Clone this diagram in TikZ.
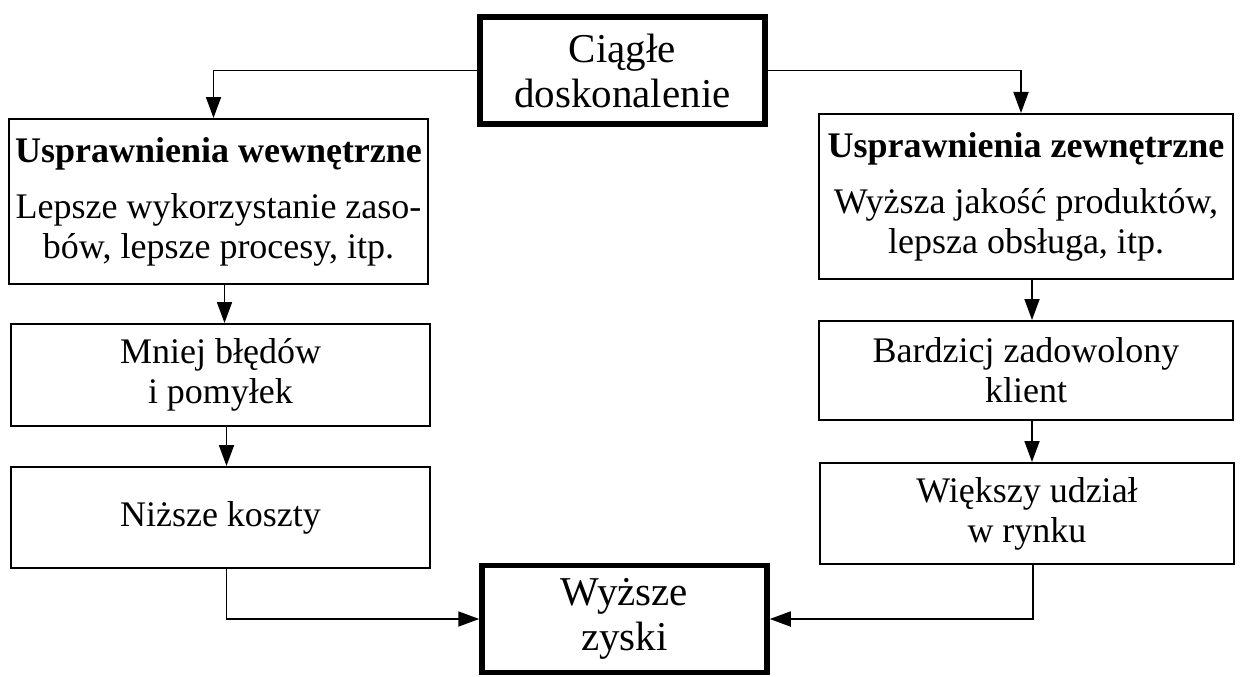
\documentclass[tikz,border=0pt]{standalone}
\usepackage{fontspec}
\setmainfont{Liberation Serif}
\usepackage{tikz}
\usetikzlibrary{arrows.meta}
\tikzset{
  box/.style={draw, line width=2pt, inner sep=0pt, align=center,
    font=\fontsize{36}{40}\selectfont},
  mainbox/.style={draw, line width=5.5pt, inner sep=0pt, align=center,
    minimum width=285pt, minimum height=107pt,
    font=\fontsize{41}{45}\selectfont},
  conn/.style={line width=1.8pt, -{Triangle[length=21pt,width=15pt]}}
}

\begin{document}
\begin{tikzpicture}[x=1pt,y=-1pt]
  \useasboundingbox (0,0) rectangle (1240,677);

  % Start and goal
  \node[mainbox] (start) at (622.5,70.5) {Ciągłe\\doskonalenie};
  \node[mainbox] (goal) at (624.5,619) {Wyższe\\zyski};

  % Left column: internal improvements
  \node[box, minimum width=419pt, minimum height=165pt] (int) at (218.5,201.5)
    {\textbf{Usprawnienia wewnętrzne}\\[16pt]Lepsze wykorzystanie zaso-\\bów, lepsze procesy, itp.};
  \node[box, minimum width=419pt, minimum height=102pt] (errors) at (220.5,375)
    {Mniej błędów\\i pomyłek};
  \node[box, minimum width=419pt, minimum height=101pt] (costs) at (220.5,517.5)
    {\raisebox{6pt}{Niższe koszty}};

  % Right column: external improvements
  \node[box, minimum width=414pt, minimum height=165pt] (ext) at (1026,196.5)
    {\textbf{Usprawnienia zewnętrzne}\\[16pt]Wyższa jakość produktów,\\lepsza obsługa, itp.};
  \node[box, minimum width=414pt, minimum height=99pt] (client) at (1026,370.5)
    {Bardzicj zadowolony\\klient};
  \node[box, minimum width=414pt, minimum height=101pt] (market) at (1027,513.5)
    {Większy udział\\w rynku};

  % Connectors
  \draw[conn] (start.west) -| ([xshift=-5pt]int.north);
  \draw[conn] (start.east) -| ([xshift=-5pt]ext.north);
  \draw[conn] ([xshift=6pt]int.south) -- ([xshift=6pt]int.south |- errors.north);
  \draw[conn] ([xshift=6pt]errors.south) -- ([xshift=6pt]errors.south |- costs.north);
  \draw[conn] ([xshift=6pt]ext.south) -- ([xshift=6pt]ext.south |- client.north);
  \draw[conn] ([xshift=6pt]client.south) -- ([xshift=6pt]client.south |- market.north);
  \draw[conn] ([xshift=6pt]costs.south) |- (goal.west);
  \draw[conn] ([xshift=6pt]market.south) |- (goal.east);
\end{tikzpicture}
\end{document}
